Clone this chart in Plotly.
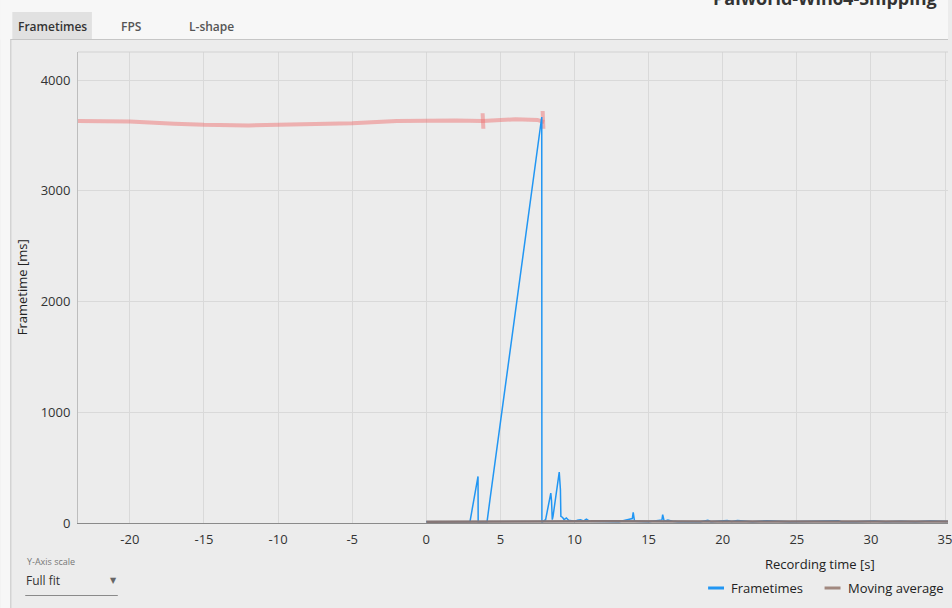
import plotly.graph_objects as go

# ---------------- data ----------------
frame_t = [0, 1.0, 2.0, 2.95, 3.05, 3.15, 3.25, 3.35, 3.45, 3.49, 3.5, 3.6, 4.1, 4.3, 4.6, 5.0, 5.5, 6.0, 6.5, 7.0, 7.5, 7.79, 7.8,
           7.85, 8.05, 8.15, 8.25, 8.35, 8.4, 8.45, 8.5, 8.55, 8.65, 8.75, 8.85, 8.95, 8.97, 9.05, 9.08, 9.2, 9.3, 9.45, 9.6, 9.8,
           10.0, 10.2, 10.4, 10.6, 10.8, 11.0, 12.0, 13.0, 13.9, 13.96, 14.05, 15.0, 15.9, 15.95, 16.05, 16.3, 16.6, 17.0,
           18.5, 19.0, 19.2, 20.3, 20.6, 21.0, 22.0, 23.0, 24.5, 26.0, 27.8, 28.0, 29.0, 30.2, 31.0, 32.0, 33.0, 34.0, 35.5]
frame_ms = [12, 12, 12, 14, 90, 170, 250, 330, 400, 420, 12, 12, 12, 215, 510, 905, 1400, 1895, 2390, 2885, 3380, 3666, 12,
            12, 30, 110, 180, 240, 270, 200, 30, 60, 150, 260, 360, 440, 460, 300, 60, 50, 30, 45, 25, 20,
            14, 25, 30, 18, 35, 16, 12, 12, 40, 95, 16, 12, 28, 75, 16, 26, 16, 12,
            12, 24, 12, 23, 13, 22, 12, 20, 12, 14, 21, 12, 12, 19, 12, 15, 12, 19, 12]
avg_t = [0, 3.5, 7.8, 9.0, 12.0, 20.0, 35.5]
avg_ms = [12, 14, 18, 20, 15, 13, 13]

# hand-drawn pen stroke (screen annotation) in data units
pen_t = [-23.5, -20, -17, -15, -12, -10, -7, -5, -2, 0, 2, 3.8, 5, 6, 7.5, 7.95, None, 3.8, 3.85, None, 7.85, 7.9]
pen_ms = [3630, 3625, 3605, 3595, 3590, 3595, 3600, 3610, 3630, 3635, 3635, 3630, 3640, 3645, 3640, 3620, None, 3700, 3560, None, 3720, 3560]

x_ticks = [-20, -15, -10, -5, 0, 5, 10, 15, 20, 25, 30, 35]
y_ticks = [0, 1000, 2000, 3000, 4000]
x_range = [-23.5, 35.2]
y_range = [0, 4253]

tabs = ["Frametimes", "FPS", "L-shape"]
title_text = "Palworld-Win64-Shipping"
legend_names = ["Frametimes", "Moving average"]
blue = "#2196f3"
brown = "#a1887f"

# ---------------- layout geometry ----------------
W, H = 952, 608
L, T, R, B = 78, 52, 0, 85
pw, ph = W - L - R, H - T - B


def px(x):
    return (x - L) / pw


def py(y):
    return (H - B - y) / ph


font = "Open Sans, Noto Sans, sans-serif"

fig = go.Figure()
fig.add_trace(go.Scatter(x=pen_t, y=pen_ms, mode="lines", line=dict(color="rgba(238,115,115,0.5)", width=4),
                         hoverinfo="skip", showlegend=False))
fig.add_trace(go.Scatter(x=frame_t, y=frame_ms, mode="lines", line=dict(color=blue, width=1.5),
                         name=legend_names[0], hoverinfo="skip", showlegend=False))
fig.add_trace(go.Scatter(x=avg_t, y=avg_ms, mode="lines", line=dict(color="#857676", width=2.5),
                         name=legend_names[1], hoverinfo="skip", showlegend=False))

shapes = []
# top strip and left strip (window background)
shapes.append(dict(type="rect", xref="paper", yref="paper", x0=px(0), x1=px(W), y0=py(39.5), y1=py(0),
                   fillcolor="#f7f7f7", line=dict(width=0), layer="below"))
shapes.append(dict(type="rect", xref="paper", yref="paper", x0=px(0), x1=px(10), y0=py(H), y1=py(0),
                   fillcolor="#f7f7f7", line=dict(width=0), layer="below"))
# active tab
shapes.append(dict(type="rect", xref="paper", yref="paper", x0=px(12), x1=px(92), y0=py(39.5), y1=py(12),
                   fillcolor="#e1e1e1", line=dict(width=0), layer="below"))
# panel borders
shapes.append(dict(type="line", xref="paper", yref="paper", x0=px(10), x1=px(W), y0=py(39.5), y1=py(39.5),
                   line=dict(color="#c6c6c6", width=1)))
shapes.append(dict(type="line", xref="paper", yref="paper", x0=px(10.5), x1=px(10.5), y0=py(39.5), y1=py(H),
                   line=dict(color="#c6c6c6", width=1)))
# top border of plot area
shapes.append(dict(type="line", xref="paper", yref="paper", x0=0, x1=1, y0=1, y1=1,
                   line=dict(color="#d2d2d2", width=1)))
# dropdown underline
shapes.append(dict(type="line", xref="paper", yref="paper", x0=px(25), x1=px(118), y0=py(595.5), y1=py(595.5),
                   line=dict(color="#8a8a8a", width=1)))
# legend samples
shapes.append(dict(type="line", xref="paper", yref="paper", x0=px(711), x1=px(727), y0=py(588), y1=py(588),
                   line=dict(color=blue, width=3)))
shapes.append(dict(type="line", xref="paper", yref="paper", x0=px(828), x1=px(844), y0=py(588), y1=py(588),
                   line=dict(color=brown, width=3)))

ann = []
tab_x = [52, 132, 212]
for i, (t, xx) in enumerate(zip(tabs, tab_x)):
    ann.append(dict(text=t, x=px(xx), y=py(26), xref="paper", yref="paper", showarrow=False,
                    xanchor="center", yanchor="middle",
                    font=dict(family=font, size=12, color="#333333" if i == 0 else "#555555", weight=600)))
ann.append(dict(text=title_text, x=px(943), y=py(-2), xref="paper", yref="paper", showarrow=False,
                xanchor="right", yanchor="middle", font=dict(family=font, size=18, color="#333333", weight=700)))
ann.append(dict(text="Frametime [ms]", x=px(22), y=py(287), xref="paper", yref="paper", showarrow=False,
                textangle=-90, xanchor="center", yanchor="middle", font=dict(family=font, size=13, color="#222222")))
ann.append(dict(text="Recording time [s]", x=px(823), y=py(564), xref="paper", yref="paper", showarrow=False,
                xanchor="center", yanchor="middle", font=dict(family=font, size=13, color="#222222")))
ann.append(dict(text="Y-Axis scale", x=px(25), y=py(561), xref="paper", yref="paper", showarrow=False,
                xanchor="left", yanchor="middle", font=dict(family=font, size=9, color="#777777")))
ann.append(dict(text="Full fit", x=px(24), y=py(580), xref="paper", yref="paper", showarrow=False,
                xanchor="left", yanchor="middle", font=dict(family=font, size=12, color="#333333")))
ann.append(dict(text="▼", x=px(114), y=py(580), xref="paper", yref="paper", showarrow=False,
                xanchor="center", yanchor="middle", font=dict(family="DejaVu Sans", size=8, color="#666666")))
ann.append(dict(text=legend_names[0], x=px(732), y=py(588), xref="paper", yref="paper", showarrow=False,
                xanchor="left", yanchor="middle", font=dict(family=font, size=13, color="#222222")))
ann.append(dict(text=legend_names[1], x=px(850), y=py(588), xref="paper", yref="paper", showarrow=False,
                xanchor="left", yanchor="middle", font=dict(family=font, size=13, color="#222222")))

fig.update_layout(
    width=W, height=H, margin=dict(l=L, r=R, t=T, b=B, pad=0),
    paper_bgcolor="#ececec", plot_bgcolor="#ececec",
    showlegend=False, shapes=shapes, annotations=ann,
    font=dict(family=font, size=13, color="#333333"),
)
fig.update_xaxes(range=x_range, tickvals=x_ticks, ticktext=[str(v) for v in x_ticks],
                 showgrid=True, gridcolor="#d9d9d9", gridwidth=1, zeroline=False,
                 showline=True, linecolor="#8a8a8a", linewidth=1, ticks="", ticklabelstandoff=4,
                 ticklabeloverflow="allow",
                 tickfont=dict(family=font, size=13, color="#333333"))
fig.update_yaxes(range=y_range, tickvals=y_ticks, ticktext=[str(v) for v in y_ticks],
                 showgrid=True, gridcolor="#d9d9d9", gridwidth=1, zeroline=False,
                 showline=True, linecolor="#bdbdbd", linewidth=1, ticks="", ticklabelstandoff=4,
                 tickfont=dict(family=font, size=13, color="#333333"))

fig.write_html("out.html", config={"displayModeBar": False},
               post_script="document.body.style.margin='0';document.body.style.overflow='hidden';")
